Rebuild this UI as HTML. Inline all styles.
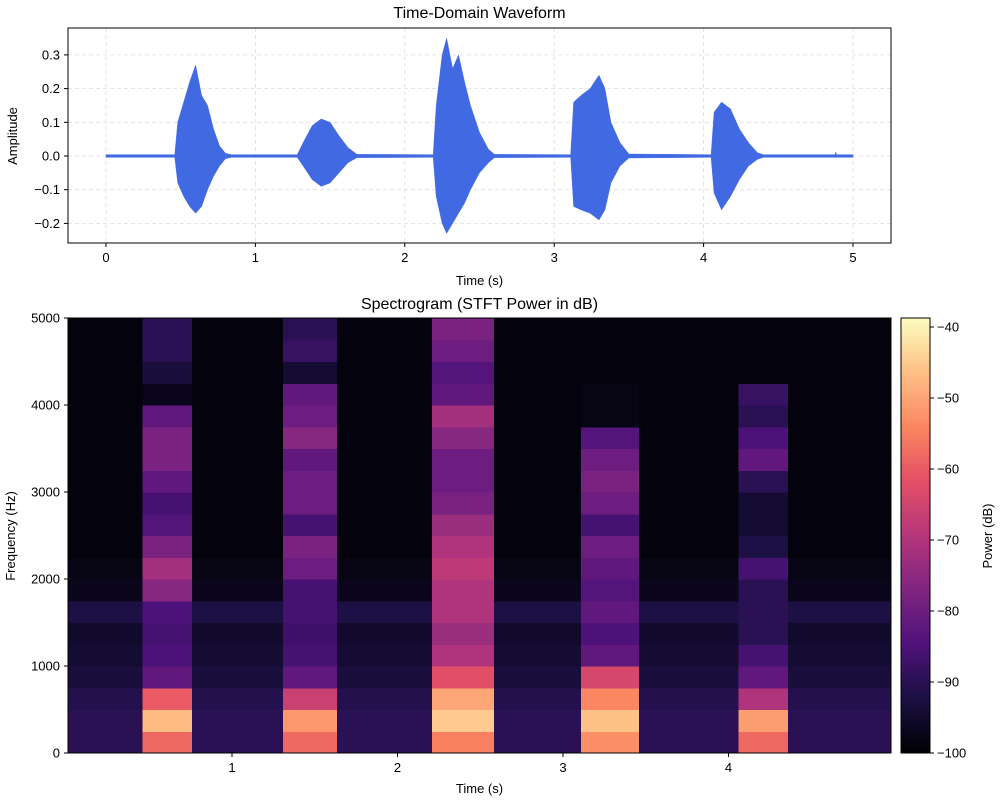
<!DOCTYPE html>
<html><head><meta charset="utf-8"><style>
body{margin:0;background:#fff;font-family:"Liberation Sans",sans-serif;}
svg text{font-family:"Liberation Sans",sans-serif;fill:#000;}
</style></head><body>
<svg id="chart" width="1000" height="800" xmlns="http://www.w3.org/2000/svg">
<defs>
<linearGradient id="magma" x1="0" y1="1" x2="0" y2="0">
<stop offset="0" stop-color="#000004"/><stop offset="0.13" stop-color="#1c1044"/><stop offset="0.25" stop-color="#4f127b"/><stop offset="0.38" stop-color="#812581"/><stop offset="0.5" stop-color="#b5367a"/><stop offset="0.63" stop-color="#e55064"/><stop offset="0.75" stop-color="#fb8761"/><stop offset="0.88" stop-color="#fec287"/><stop offset="1" stop-color="#fcfdbf"/>
</linearGradient>
<clipPath id="clipTop"><rect x="68" y="28" width="823" height="215"/></clipPath>
</defs>
</svg>
<script>
// ---------- data ----------
const waveTimes=[0,0.46,0.48,0.52,0.56,0.60,0.64,0.68,0.72,0.76,0.80,0.84,1.28,1.32,1.38,1.44,1.50,1.56,1.62,1.68,2.19,2.21,2.25,2.28,2.32,2.36,2.40,2.44,2.50,2.56,2.60,3.11,3.13,3.18,3.24,3.30,3.34,3.38,3.44,3.50,4.05,4.07,4.12,4.18,4.24,4.30,4.36,4.40,4.88,4.885,4.89,5.0];
const waveUpper=[.004,.004,.10,.16,.22,.27,.18,.15,.08,.03,.008,.004,.004,.04,.09,.11,.10,.06,.025,.005,.004,.15,.30,.35,.26,.30,.22,.15,.07,.02,.005,.004,.16,.18,.20,.24,.20,.10,.04,.006,.004,.13,.16,.14,.08,.04,.01,.004,.004,.012,.004,.004];
const waveLower=[-.004,-.004,-.08,-.12,-.15,-.17,-.15,-.10,-.06,-.03,-.008,-.004,-.004,-.03,-.07,-.09,-.08,-.05,-.02,-.005,-.004,-.12,-.20,-.23,-.20,-.17,-.14,-.10,-.05,-.02,-.005,-.004,-.15,-.16,-.17,-.19,-.16,-.08,-.03,-.006,-.004,-.11,-.16,-.12,-.07,-.03,-.01,-.004,-.004,-.004,-.004,-.004];
const waveXTicks=[0,1,2,3,4,5];
const waveYTicks=[-0.2,-0.1,0.0,0.1,0.2,0.3];
const sylStart=[0.47,1.30,2.22,3.12,4.06];
const sylEnd=[0.76,1.64,2.58,3.45,4.35];
const sylProfiles=[
[-58,-47,-60,-82,-85,-86,-85,-76,-72,-78,-84,-86,-82,-78,-78,-82,-97,-93,-90,-90],
[-58,-52,-66,-82,-86,-87,-86,-86,-80,-78,-86,-80,-80,-82,-76,-80,-82,-94,-88,-90],
[-55,-45,-50,-62,-70,-73,-70,-70,-68,-70,-73,-78,-80,-80,-76,-72,-82,-84,-80,-78],
[-53,-46,-54,-64,-82,-85,-82,-84,-82,-80,-86,-80,-78,-80,-84,-98,-98,-99,-99,-99],
[-58,-51,-70,-82,-86,-90,-90,-90,-86,-92,-94,-94,-90,-82,-85,-90,-88,-99,-99,-99]];
const bgProfile=[-90,-90,-91,-93,-94,-95,-92,-97,-98,-99,-99,-99,-99,-99,-99,-99,-99,-99,-99,-99];
const specXTicks=[1,2,3,4];
const specYTicks=[0,1000,2000,3000,4000,5000];
const cbTicks=[-100,-90,-80,-70,-60,-50,-40];
// ---------- helpers ----------
const svg=document.getElementById('chart');
const NS='http://www.w3.org/2000/svg';
function mk(tag,attrs,parent){const e=document.createElementNS(NS,tag);for(const k in attrs)e.setAttribute(k,attrs[k]);(parent||svg).appendChild(e);return e;}
function txt(x,y,s,size,anchor,parent){const t=mk('text',{x:x,y:y,'font-size':size,'text-anchor':anchor||'middle'},parent);t.textContent=s;return t;}
// ---------- top waveform ----------
const wx=t=>106+(t-0)*149.4;
const wy=v=>156-v*337;
const gTop=mk('g',{});


waveXTicks.forEach(t=>{mk('line',{x1:wx(t),x2:wx(t),y1:28,y2:243,stroke:'#ddd','stroke-dasharray':'4,3','stroke-width':0.8},gTop);});
waveYTicks.forEach(v=>{mk('line',{x1:68,x2:891,y1:wy(v),y2:wy(v),stroke:'#ddd','stroke-dasharray':'4,3','stroke-width':0.8},gTop);});
let pts=[];
for(let i=0;i<waveTimes.length;i++)pts.push(wx(waveTimes[i])+','+wy(waveUpper[i]));
for(let i=waveTimes.length-1;i>=0;i--)pts.push(wx(waveTimes[i])+','+wy(waveLower[i]));
const wave=mk('polygon',{points:pts.join(' '),fill:'#4169e1',stroke:'#4169e1','stroke-width':0.4,'clip-path':'url(#clipTop)'},gTop);


mk('rect',{x:68,y:28,width:823,height:215,fill:'none',stroke:'#000','stroke-width':1},gTop);
waveXTicks.forEach(t=>{mk('line',{x1:wx(t),x2:wx(t),y1:243,y2:247,stroke:'#000'},gTop);txt(wx(t),262,String(t),13,'middle',gTop);});
waveYTicks.forEach(v=>{mk('line',{x1:64,x2:68,y1:wy(v),y2:wy(v),stroke:'#000'},gTop);txt(60,wy(v)+4.5,v.toFixed(1).replace('-','−'),13,'end',gTop);});
const t1=txt(479.5,18,'Time-Domain Waveform',16);
const xl1=txt(479.5,285,'Time (s)',13);
const yl1=txt(0,0,'Amplitude',13);yl1.setAttribute('transform','translate(17,136) rotate(-90)');
// ---------- spectrogram ----------
const sx=t=>68+(t-0.009)*165.5;
const sy=f=>753-f*0.087;
const stops=[[0,[0,0,4]],[0.13,[28,16,68]],[0.25,[79,18,123]],[0.38,[129,37,129]],[0.5,[181,54,122]],[0.63,[229,80,100]],[0.75,[251,135,97]],[0.88,[254,194,135]],[1,[252,253,191]]];
function magma(db){let u=(db+100)/61.3;u=Math.max(0,Math.min(1,u));for(let i=1;i<stops.length;i++){if(u<=stops[i][0]){const a=stops[i-1],b=stops[i];const f=(u-a[0])/(b[0]-a[0]);const c=a[1].map((v,k)=>Math.round(v+(b[1][k]-v)*f));return 'rgb('+c.join(',')+')';}}return 'rgb(252,253,191)';}
const gSp=mk('g',{'shape-rendering':'crispEdges'});


mk('rect',{x:68,y:318,width:823,height:435,fill:magma(-99)},gSp);
const dt=0.025,tMin=0.009,tMax=4.982;
for(let t=tMin;t<tMax;t+=dt){
  let prof=bgProfile;
  for(let s=0;s<sylStart.length;s++){if(t+dt/2>=sylStart[s]&&t+dt/2<=sylEnd[s])prof=sylProfiles[s];}
  for(let r=0;r<prof.length;r++){
    mk('rect',{x:sx(t),y:sy((r+1)*250),width:sx(Math.min(t+dt,tMax))-sx(t)+0.5,height:sy(r*250)-sy((r+1)*250)+0.5,fill:magma(prof[r])},gSp);
  }
}
mk('rect',{x:68,y:318,width:823,height:435,fill:'none',stroke:'#000','stroke-width':1});
specXTicks.forEach(t=>{mk('line',{x1:sx(t),x2:sx(t),y1:753,y2:757,stroke:'#000'});txt(sx(t),772,String(t),13);});
specYTicks.forEach(f=>{mk('line',{x1:64,x2:68,y1:sy(f),y2:sy(f),stroke:'#000'});txt(60,sy(f)+4.5,String(f),13,'end');});
const t2=txt(479.5,309,'Spectrogram (STFT Power in dB)',16);
const xl2=txt(479.5,793,'Time (s)',13);
const yl2=txt(0,0,'Frequency (Hz)',13);yl2.setAttribute('transform','translate(15,536) rotate(-90)');
// ---------- colorbar ----------
const cy=d=>753-(d+100)*7.1;
const cb=mk('rect',{x:901,y:318,width:29,height:435,fill:'url(#magma)',stroke:'#000','stroke-width':1});


cbTicks.forEach(d=>{mk('line',{x1:930,x2:934,y1:cy(d),y2:cy(d),stroke:'#000'});txt(937,cy(d)+4.5,String(d).replace('-','−'),13,'start');});
const cl=txt(0,0,'Power (dB)',13);cl.setAttribute('transform','translate(992,536) rotate(-90)');
</script>
</body></html>
